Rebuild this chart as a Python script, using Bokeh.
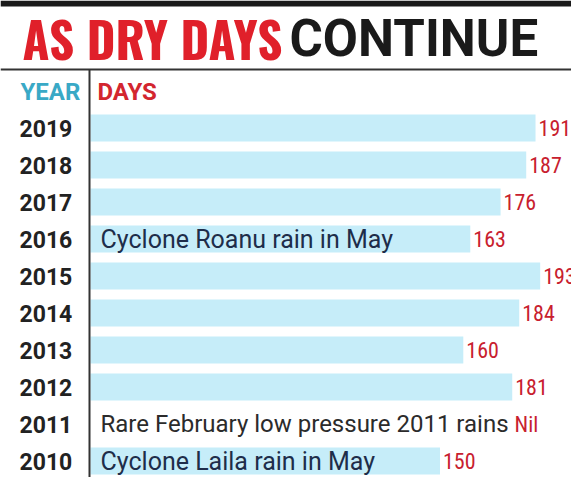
from bokeh.plotting import figure
from bokeh.models import ColumnDataSource, Label, BoxAnnotation, Range1d
from bokeh.core.properties import value
from bokeh.embed import file_html
from bokeh.resources import INLINE

years = ["2019", "2018", "2017", "2016", "2015", "2014", "2013", "2012", "2011", "2010"]
days = [191, 187, 176, 163, 193, 184, 160, 181, 0, 150]
day_labels = ["191", "187", "176", "163", "193", "184", "160", "181", "", "150"]
notes = ["", "", "", "Cyclone Roanu rain in May", "", "", "", "",
         "Rare February low pressure 2011 rains", "Cyclone Laila rain in May"]
note_colors = ["#1e2d4a", "#1e2d4a", "#1e2d4a", "#1e2d4a", "#1e2d4a", "#1e2d4a",
               "#1e2d4a", "#1e2d4a", "#2b2b2b", "#1e2d4a"]
note_sizes = ["25px"] * 8 + ["24px", "25px"]

W, H = 571, 477
PX_PER_DAY = 2.33
X0 = 90  # pixel of zero days
ROW = 37.0
TOP_ROW = 127.5

xr = Range1d(-X0 / PX_PER_DAY, (W - X0) / PX_PER_DAY)
yr = Range1d(-TOP_ROW / ROW + H / ROW, -TOP_ROW / ROW)

p = figure(width=W, height=H, x_range=xr, y_range=yr, output_backend="svg",
           toolbar_location=None, x_axis_location=None, y_axis_location=None,
           min_border=0, outline_line_color=None)
p.xgrid.visible = False
p.ygrid.visible = False
p.background_fill_color = "white"

idx = list(range(len(years)))
src = ColumnDataSource(dict(y=idx, year=years, days=days, lab=day_labels,
                            note=notes, ncol=note_colors, nsize=note_sizes))

p.hbar(y="y", left=0, right="days", height=0.73, source=src,
       fill_color="#c6edf9", line_color=None)

p.text(x=(27 - 8 - X0) / PX_PER_DAY, y="y", text="year", source=src,
       text_font=value("Roboto"), text_font_style="bold", text_font_size="23px",
       text_color="#222222", text_baseline="middle", text_align="left")

p.text(x="days", y="y", text="lab", source=src, x_offset=3,
       text_font=value("Roboto Condensed"), text_font_size="22px",
       text_color="#c8202e", text_baseline="middle", text_align="left")

p.text(x=4.3, y="y", text="note", source=src,
       text_font=value("Roboto"), text_font_size="nsize",
       text_color="ncol", text_baseline="middle", text_align="left")

# "Nil" for 2011
p.add_layout(Label(x=(522 - 8 - X0) / PX_PER_DAY, y=8, text="Nil",
                   text_font="Roboto Condensed", text_font_size="22px",
                   text_color="#c8202e", text_baseline="middle"))

def box(l, r, t, b, color):
    p.add_layout(BoxAnnotation(left=l, right=r, top=t, bottom=b,
                               left_units="screen", right_units="screen",
                               top_units="screen", bottom_units="screen",
                               fill_color=color, fill_alpha=1, line_color=None))

box(0, W, H, H - 6, "#1a1a1a")              # top rule
box(0, W, 485 - 76, 485 - 78, "#333333")    # rule under title
box(96 - 8, 98 - 8, 485 - 77, 0, "#333333")  # vertical rule

def lab(x, yc, text, font, size, color, style="bold"):
    p.add_layout(Label(x=x - 8, y=485 - yc, x_units="screen", y_units="screen",
                       text=text, text_font=font, text_font_style=style,
                       text_font_size=size, text_color=color,
                       text_baseline="middle"))

lab(30, 45, "AS DRY DAYS", "Oswald", "49px", "#e0202a")
lab(297, 46, "CONTINUE", "Roboto", "51px", "#1a1a1a")
lab(28, 99, "YEAR", "Roboto", "24px", "#39a9c6")
lab(105, 99, "DAYS", "Roboto", "24px", "#d3262f")

open("out.html", "w").write(file_html(p, INLINE))
